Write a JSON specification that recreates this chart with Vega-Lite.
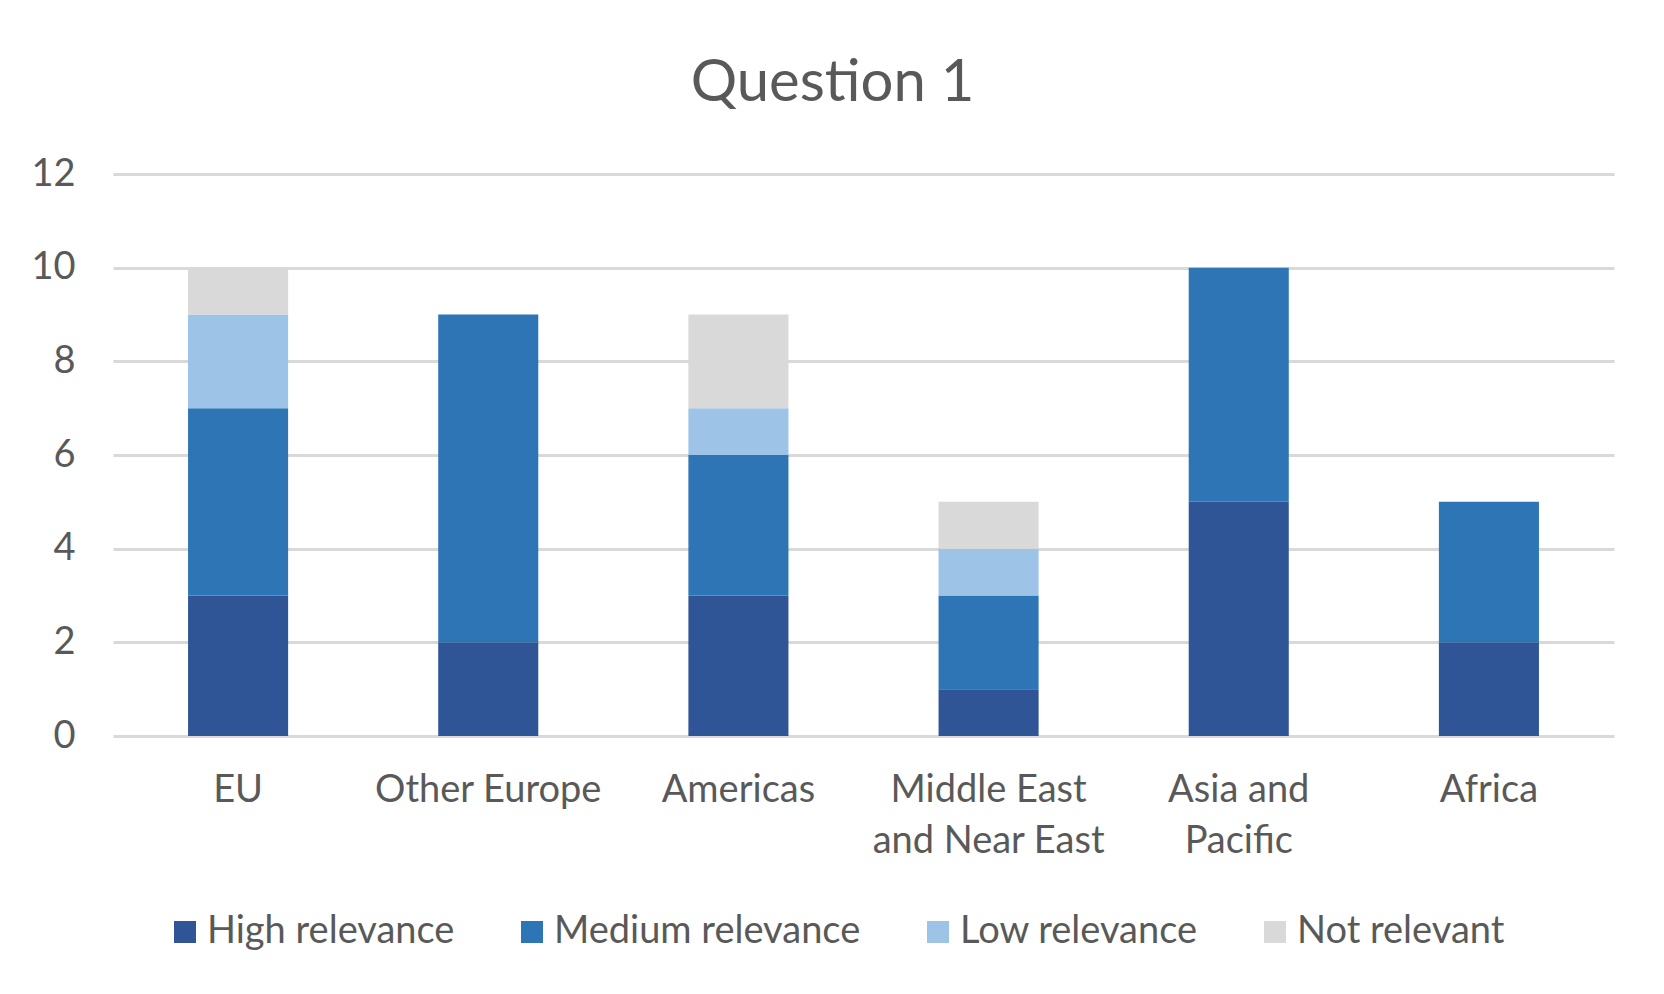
{
  "$schema": "https://vega.github.io/schema/vega-lite/v6.json",
  "width": 1501,
  "height": 562,
  "autosize": {"type": "none"},
  "padding": {"left": 113, "top": 174, "right": 50, "bottom": 258},
  "background": "white",
  "title": {
    "text": "Question 1",
    "anchor": "middle",
    "frame": "group",
    "baseline": "alphabetic",
    "offset": -4,
    "dx": -31,
    "font": "Lato",
    "fontSize": 58,
    "fontWeight": "normal",
    "color": "#595959"
  },
  "data": {
    "values": [
      {"region": "EU", "level": "High relevance", "score": 3, "count": 3},
      {"region": "EU", "level": "Medium relevance", "score": 2, "count": 4},
      {"region": "EU", "level": "Low relevance", "score": 1, "count": 2},
      {"region": "EU", "level": "Not relevant", "score": 0, "count": 1},
      {"region": "Other Europe", "level": "High relevance", "score": 3, "count": 2},
      {"region": "Other Europe", "level": "Medium relevance", "score": 2, "count": 7},
      {"region": "Americas", "level": "High relevance", "score": 3, "count": 3},
      {"region": "Americas", "level": "Medium relevance", "score": 2, "count": 3},
      {"region": "Americas", "level": "Low relevance", "score": 1, "count": 1},
      {"region": "Americas", "level": "Not relevant", "score": 0, "count": 2},
      {"region": "Middle East and Near East", "level": "High relevance", "score": 3, "count": 1},
      {"region": "Middle East and Near East", "level": "Medium relevance", "score": 2, "count": 2},
      {"region": "Middle East and Near East", "level": "Low relevance", "score": 1, "count": 1},
      {"region": "Middle East and Near East", "level": "Not relevant", "score": 0, "count": 1},
      {"region": "Asia and Pacific", "level": "High relevance", "score": 3, "count": 5},
      {"region": "Asia and Pacific", "level": "Medium relevance", "score": 2, "count": 5},
      {"region": "Africa", "level": "High relevance", "score": 3, "count": 2},
      {"region": "Africa", "level": "Medium relevance", "score": 2, "count": 3}
    ]
  },
  "mark": {"type": "bar"},
  "encoding": {
    "x": {
      "field": "region",
      "type": "nominal",
      "sort": ["EU", "Other Europe", "Americas", "Middle East and Near East", "Asia and Pacific", "Africa"],
      "scale": {"paddingInner": 0.6, "paddingOuter": 0.3},
      "axis": {
        "title": null,
        "labelAngle": 0,
        "ticks": false,
        "domain": false,
        "grid": false,
        "labelPadding": 35,
        "labelBaseline": "top",
        "labelLimit": 0,
        "labelFont": "Lato",
        "labelFontSize": 38,
        "labelColor": "#595959",
        "labelLineHeight": 51,
        "labelExpr": "datum.value == 'Middle East and Near East' ? ['Middle East', 'and Near East'] : datum.value == 'Asia and Pacific' ? ['Asia and', 'Pacific'] : datum.value"
      }
    },
    "y": {
      "field": "count",
      "type": "quantitative",
      "stack": "zero",
      "scale": {"domain": [0, 12], "nice": false},
      "axis": {
        "title": null,
        "values": [0, 2, 4, 6, 8, 10, 12],
        "ticks": false,
        "domain": false,
        "grid": true,
        "gridColor": "#d9d9d9",
        "gridWidth": 3,
        "labelPadding": 38,
        "labelFont": "Lato",
        "labelFontSize": 38,
        "labelColor": "#595959"
      }
    },
    "order": {"field": "score", "type": "quantitative", "sort": "descending"},
    "color": {
      "field": "level",
      "type": "nominal",
      "sort": ["High relevance", "Medium relevance", "Low relevance", "Not relevant"],
      "scale": {
        "domain": ["High relevance", "Medium relevance", "Low relevance", "Not relevant"],
        "range": ["#2f5597", "#2e75b6", "#9dc3e6", "#d9d9d9"]
      },
      "legend": {
        "title": null,
        "orient": "none",
        "direction": "horizontal",
        "columns": 4,
        "legendX": 53,
        "legendY": 739,
        "padding": 0,
        "columnPadding": 58,
        "symbolType": "square",
        "symbolSize": 484,
        "symbolStrokeWidth": 0,
        "labelOffset": 3,
        "labelLimit": 0,
        "labelFont": "Lato",
        "labelFontSize": 38,
        "labelColor": "#595959"
      }
    }
  },
  "config": {
    "view": {"stroke": null}
  }
}
